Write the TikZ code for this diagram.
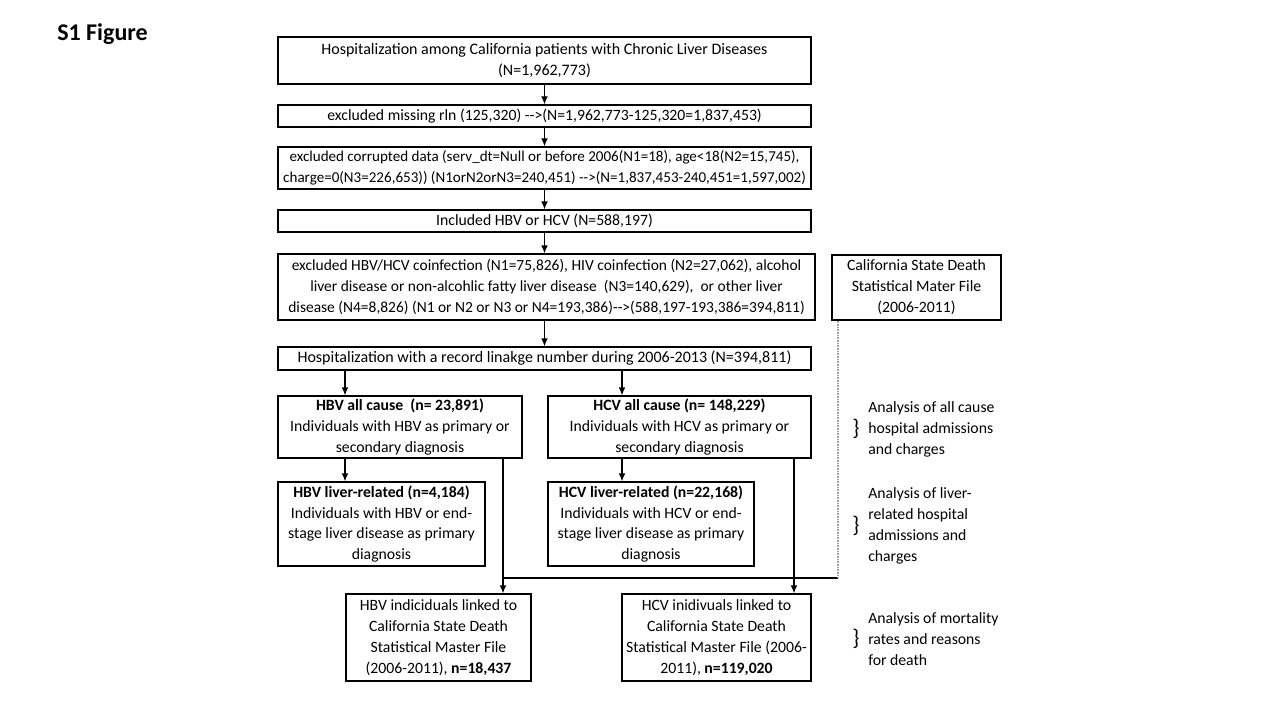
\documentclass[tikz,border=0pt]{standalone}
\usepackage{fontspec}
\setmainfont{Carlito}
\usetikzlibrary{arrows.meta}
\newcommand\px{0.75pt}
\newcommand\fs{\fontsize{11.8}{15.7}\selectfont}
\newcommand\fsw{\fontsize{11.6}{15.7}\selectfont}
\begin{document}
\begin{tikzpicture}[x=0.75pt,y=-0.75pt,
  box/.style={draw, line width=0.9pt, align=center, inner sep=0pt, font=\fs},
  arr/.style={-{Latex[length=6pt,width=5pt]}, line width=0.9pt},
  ln/.style={line width=0.9pt},
  dotln/.style={line width=1.8pt, gray!75, dash pattern=on 0.6pt off 0.6pt},
  note/.style={align=left, anchor=west, inner sep=0pt, font=\fs},
  brace/.style={inner sep=0pt, font=\fontsize{17}{18}\selectfont}]
\useasboundingbox (0,0) rectangle (1280,720);
\fill[white] (0,0) rectangle (1280,720);

\node[anchor=west, inner sep=0pt, font=\fontsize{18}{20}\selectfont\bfseries] (title) at (57,34) {S1 Figure};

\node[box, font=\fontsize{12}{15.7}\selectfont, minimum width={533*\px}, minimum height={47*\px}] (b1) at (544.5,60.5)
  {Hospitalization among California patients with Chronic Liver Diseases\\(N=1,962,773)};
\node[box, minimum width={533*\px}, minimum height={22*\px}] (b2) at (544.5,116)
  {excluded missing rln (125,320) -{}->(N=1,962,773-125,320=1,837,453)};
\node[box, font=\fontsize{11.3}{15.7}\selectfont, minimum width={533*\px}, minimum height={42*\px}] (b3) at (544.5,168)
  {excluded corrupted data (serv\_dt=Null or before 2006(N1=18), age<18(N2=15,745),\\
   charge=0(N3=226,653)) (N1orN2orN3=240,451) -{}->(N=1,837,453-240,451=1,597,002)};
\node[box, minimum width={533*\px}, minimum height={22*\px}] (b4) at (544.5,221)
  {Included HBV or HCV (N=588,197)};
\node[box, font=\fsw, minimum width={537*\px}, minimum height={66*\px}] (b5) at (546.5,287)
  {excluded HBV/HCV coinfection (N1=75,826), HIV coinfection (N2=27,062), alcohol\\
   liver disease or non-alcohlic fatty liver disease~ (N3=140,629), ~or other liver\\
   disease (N4=8,826) (N1 or N2 or N3 or N4=193,386)-{}->(588,197-193,386=394,811)};
\node[box, minimum width={169*\px}, minimum height={65*\px}] (cal) at (916.5,287.5)
  {California State Death\\Statistical Mater File\\(2006-2011)};
\node[box, font=\fontsize{12}{15.7}\selectfont, minimum width={533*\px}, minimum height={23*\px}] (b6) at (544.5,358.5)
  {Hospitalization with a record linakge number during 2006-2013 (N=394,811)};

\node[box, minimum width={244*\px}, minimum height={62*\px}] (hbva) at (400,427)
  {\textbf{HBV all cause~ (n= 23,891)}\\Individuals with HBV as primary or\\secondary diagnosis};
\node[box, minimum width={263*\px}, minimum height={62*\px}] (hcva) at (679.5,427)
  {\textbf{HCV all cause (n= 148,229)}\\Individuals with HCV as primary or\\secondary diagnosis};
\node[box, minimum width={207*\px}, minimum height={84*\px}] (hbvl) at (381.5,524)
  {\textbf{HBV liver-related (n=4,184)}\\Individuals with HBV or end-\\stage liver disease as primary\\diagnosis};
\node[box, minimum width={206*\px}, minimum height={84*\px}] (hcvl) at (651,524)
  {\textbf{HCV liver-related (n=22,168)}\\Individuals with HCV or end-\\stage liver disease as primary\\diagnosis};
\node[box, minimum width={185*\px}, minimum height={87*\px}] (hbvd) at (438.5,637.5)
  {HBV indiciduals linked to\\California State Death\\Statistical Master File\\(2006-2011), \textbf{n=18,437}};
\node[box, minimum width={189*\px}, minimum height={87*\px}] (hcvd) at (716.5,637.5)
  {HCV inidivuals linked to\\California State Death\\Statistical Master File (2006-\\2011), \textbf{n=119,020}};

\node[note] (n1) at (868,429) {Analysis of all cause\\hospital admissions\\and charges};
\node[note] (n2) at (868,526) {Analysis of liver-\\related hospital\\admissions and\\charges};
\node[note] (n3) at (868,639.5) {Analysis of mortality\\rates and reasons\\for death};
\node[brace] (br1) at (856,429) {\}};
\node[brace] (br2) at (856,526) {\}};
\node[brace] (br3) at (856,639) {\}};

\coordinate (cl) at (345,0);
\coordinate (cr) at (622,0);
\coordinate (dl) at (503,0);
\coordinate (dr) at (794,0);
\coordinate (dot) at (838,0);
\coordinate (join) at (838,578);

\draw[arr] (b1) -- (b2);
\draw[arr] (b2) -- (b3);
\draw[arr] (b3) -- (b4);
\draw[arr] (b4.south) -- (b4.south |- b5.north);
\draw[arr] (b5.south -| b6.north) -- (b6.north);
\draw[arr] (b6.south -| cl) -- (cl |- hbva.north);
\draw[arr] (b6.south -| cr) -- (cr |- hcva.north);
\draw[arr] (hbva.south -| cl) -- (cl |- hbvl.north);
\draw[arr] (hcva.south -| cr) -- (cr |- hcvl.north);
\draw[arr] (hbva.south -| dl) -- (dl |- hbvd.north);
\draw[arr] (hcva.south -| dr) -- (dr |- hcvd.north);
\draw[ln] (dl |- join) -- (join);
\draw[dotln] (cal.south -| dot) -- (join);
\end{tikzpicture}
\end{document}
